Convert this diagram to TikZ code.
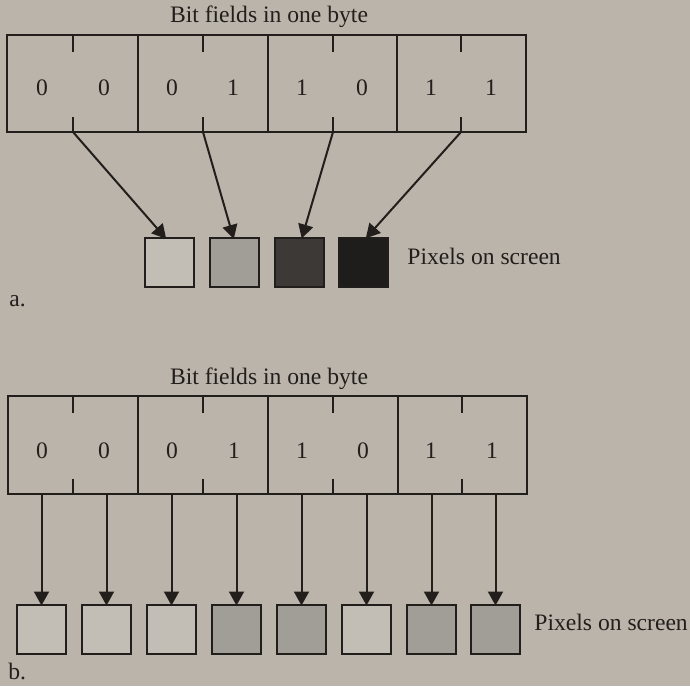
\documentclass[tikz,border=0pt]{standalone}
\usepackage{fontspec}
\setmainfont{Liberation Serif}
\usetikzlibrary{arrows.meta}
\definecolor{paper}{HTML}{BAB4AA}
\definecolor{ink}{HTML}{221E1B}
\definecolor{pixwhite}{HTML}{C3BEB5}
\definecolor{pixlight}{HTML}{A19D97}
\definecolor{pixdark}{HTML}{3C3937}
\definecolor{pixblack}{HTML}{1F1D1C}
\tikzset{
  line/.style={draw=ink, line width=1pt},
  lbl/.style={font=\fontsize{11.8}{14}\selectfont, text=ink, inner sep=0pt},
  pix/.style={line, minimum size=24.5pt, inner sep=0pt, outer sep=0pt},
  conn/.style={line, -{Triangle[length=7pt,width=7.5pt]}, shorten >=-0.5pt},
}
\begin{document}
\begin{tikzpicture}[x=0.5pt, y=-0.5pt]
\fill[paper] (0,0) rectangle (690,686);
\useasboundingbox (0,0) rectangle (690,686);

% ---------- part a: one byte, four 2-bit fields ----------
\node[lbl] (titleA) at (269,17) {Bit fields in one byte};
\draw[line] (7,35) rectangle (526,132);
\foreach \x in {138,268,397} \draw[line] (\x,35) -- (\x,132);
\foreach \x/\n in {73/1,203/2,333/3,461/4} {
  \draw[line] (\x,35) -- (\x,52);
  \draw[line] (\x,117) -- (\x,132);
  \coordinate (fa\n) at (\x,132);
}
\foreach \x/\d in {42/0,104/0,172/0,233/1,302/1,362/0,431/1,491/1}
  \node[lbl] at (\x,88) {\d};

\node[pix, fill=pixwhite] (pa1) at (169.5,262.5) {};
\node[pix, fill=pixlight] (pa2) at (234.5,262.5) {};
\node[pix, fill=pixdark] (pa3) at (299,262) {};
\node[pix, fill=pixblack] (pa4) at (363.5,262) {};
\node[lbl, anchor=west] (pixA) at (407,256) {Pixels on screen};

\draw[conn] (fa1) -- ([xshift=-2pt]pa1.north);
\draw[conn] (fa2) -- ([xshift=-0.5pt]pa2.north);
\draw[conn] (fa3) -- ([xshift=1.5pt]pa3.north);
\draw[conn] (fa4) -- ([xshift=1.5pt]pa4.north);

\node[lbl, anchor=west] (labA) at (9,301) {a.};

% ---------- part b: one byte, eight 1-bit fields ----------
\node[lbl] (titleB) at (269,379) {Bit fields in one byte};
\draw[line] (8,396) rectangle (527,494);
\foreach \x in {138,268,398} \draw[line] (\x,396) -- (\x,494);
\foreach \x in {73,203,333,462} {
  \draw[line] (\x,396) -- (\x,413);
  \draw[line] (\x,479) -- (\x,494);
}
\foreach \x/\d in {42/0,104/0,172/0,234/1,302/1,363/0,431/1,492/1}
  \node[lbl] at (\x,451) {\d};

\foreach \x/\n/\c in {41.5/1/pixwhite, 106.5/2/pixwhite,
                      171.5/3/pixwhite, 236.5/4/pixlight,
                      301.5/5/pixlight, 366.5/6/pixwhite,
                      431.5/7/pixlight, 495.5/8/pixlight} {
  \node[pix, fill=\c] (pb\n) at (\x,629) {};
  \coordinate (fb\n) at (\x,494);
  \draw[conn] (fb\n) -- (pb\n.north);
}
\node[lbl, anchor=west] (pixB) at (534,622) {Pixels on screen};

\node[lbl, anchor=west] (labB) at (8,671) {b.};
\end{tikzpicture}
\end{document}
